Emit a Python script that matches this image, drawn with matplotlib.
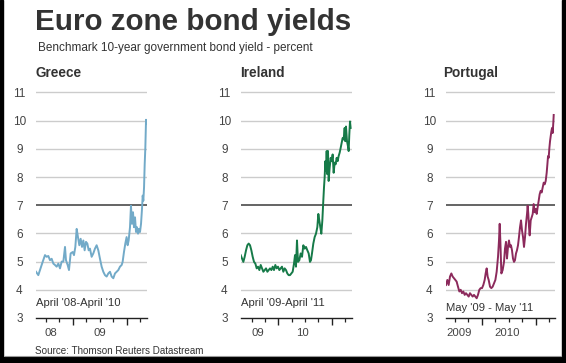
import matplotlib
matplotlib.use("Agg")
import matplotlib.pyplot as plt
import matplotlib.transforms as mtransforms
from matplotlib.patches import Rectangle
from matplotlib.lines import Line2D

plt.rcParams['font.family'] = ['Liberation Sans', 'DejaVu Sans']

# ---------------- data (decimal years, percent) ----------------
greece_t = [2008.318, 2008.361, 2008.392, 2008.442, 2008.485, 2008.516, 2008.547, 2008.578,
            2008.609, 2008.640, 2008.671, 2008.702, 2008.733, 2008.764, 2008.795, 2008.826,
            2008.857, 2008.875, 2008.906, 2008.931, 2008.962, 2009.000, 2009.024, 2009.049,
            2009.074, 2009.098, 2009.123, 2009.148, 2009.173, 2009.198, 2009.222, 2009.247,
            2009.272, 2009.297, 2009.321, 2009.352, 2009.383, 2009.414, 2009.445, 2009.476,
            2009.507, 2009.538, 2009.569, 2009.600, 2009.631, 2009.662, 2009.693, 2009.724,
            2009.755, 2009.786, 2009.817, 2009.848, 2009.879, 2009.910, 2009.928, 2009.953,
            2009.978, 2010.002, 2010.021, 2010.040, 2010.065, 2010.083, 2010.102, 2010.121,
            2010.139, 2010.158, 2010.177, 2010.195, 2010.214, 2010.232, 2010.251, 2010.270,
            2010.288, 2010.301, 2010.313, 2010.326, 2010.338, 2010.350, 2010.363, 2010.369]
greece_y = [4.64, 4.52, 4.70, 4.99, 5.23, 5.17, 5.20, 5.05,
            5.10, 4.93, 4.88, 4.82, 4.93, 4.76, 5.00, 5.00,
            5.52, 5.05, 4.88, 4.70, 5.29, 5.34, 5.23, 5.52,
            6.16, 5.87, 5.58, 5.81, 5.52, 5.75, 5.40, 5.70,
            5.64, 5.40, 5.46, 5.17, 5.29, 5.46, 5.58, 5.40,
            5.10, 4.82, 4.64, 4.52, 4.47, 4.58, 4.64, 4.47,
            4.41, 4.58, 4.64, 4.70, 4.82, 4.88, 4.99, 5.34,
            5.64, 5.87, 5.58, 5.75, 6.22, 6.98, 6.34, 6.75,
            6.22, 6.57, 6.05, 6.22, 5.99, 6.16, 6.05, 6.34,
            6.87, 7.34, 7.16, 7.63, 8.45, 9.03, 10.03, 9.90]

ireland_t = [2009.295, 2009.320, 2009.345, 2009.370, 2009.395, 2009.420, 2009.445, 2009.470,
             2009.495, 2009.520, 2009.545, 2009.570, 2009.595, 2009.620, 2009.645, 2009.670,
             2009.695, 2009.720, 2009.745, 2009.770, 2009.795, 2009.820, 2009.845, 2009.870,
             2009.895, 2009.919, 2009.944, 2009.969, 2009.994, 2010.019, 2010.044, 2010.069,
             2010.094, 2010.119, 2010.144, 2010.169, 2010.194, 2010.219, 2010.244, 2010.269,
             2010.294, 2010.313, 2010.331, 2010.350, 2010.369, 2010.394, 2010.419, 2010.444,
             2010.469, 2010.494, 2010.519, 2010.544, 2010.569, 2010.593, 2010.612, 2010.631,
             2010.656, 2010.681, 2010.706, 2010.731, 2010.750, 2010.768, 2010.787, 2010.806,
             2010.825, 2010.843, 2010.856, 2010.868, 2010.881, 2010.893, 2010.906, 2010.918,
             2010.931, 2010.943, 2010.962, 2010.981, 2011.000, 2011.018, 2011.037, 2011.056,
             2011.074, 2011.093, 2011.112, 2011.130, 2011.149, 2011.168, 2011.187, 2011.205,
             2011.224, 2011.243, 2011.255, 2011.268, 2011.287, 2011.305, 2011.318, 2011.330,
             2011.343, 2011.355]
ireland_y = [5.23, 5.11, 4.99, 5.17, 5.40, 5.58, 5.64, 5.58,
             5.40, 5.17, 4.99, 4.93, 4.76, 4.82, 4.70, 4.88,
             4.76, 4.64, 4.70, 4.76, 4.64, 4.70, 4.76, 4.70,
             4.82, 4.70, 4.88, 4.76, 4.82, 4.70, 4.76, 4.82,
             4.64, 4.76, 4.70, 4.58, 4.52, 4.52, 4.58, 4.64,
             4.93, 5.23, 4.82, 5.75, 4.99, 5.05, 5.29, 5.17,
             5.58, 5.46, 5.52, 5.40, 5.29, 4.99, 5.05, 5.29,
             5.64, 5.87, 5.99, 6.22, 6.69, 6.46, 6.22, 5.99,
             6.46, 7.16, 7.63, 7.98, 8.56, 8.21, 8.92, 8.10,
             8.92, 7.86, 8.33, 8.68, 8.56, 8.80, 8.15, 8.51,
             8.45, 8.68, 8.56, 8.74, 8.86, 9.03, 9.21, 9.38,
             9.33, 9.74, 9.27, 9.79, 9.27, 9.09, 8.92, 9.50,
             9.97, 9.74]

portugal_t = [2009.339, 2009.364, 2009.388, 2009.413, 2009.438, 2009.462, 2009.487, 2009.512,
              2009.536, 2009.561, 2009.586, 2009.611, 2009.635, 2009.660, 2009.685, 2009.709,
              2009.734, 2009.759, 2009.783, 2009.808, 2009.833, 2009.857, 2009.882, 2009.907,
              2009.931, 2009.956, 2009.981, 2010.006, 2010.030, 2010.055, 2010.073, 2010.092,
              2010.110, 2010.129, 2010.154, 2010.178, 2010.203, 2010.228, 2010.253, 2010.277,
              2010.302, 2010.320, 2010.333, 2010.345, 2010.364, 2010.388, 2010.413, 2010.431,
              2010.450, 2010.468, 2010.487, 2010.505, 2010.524, 2010.542, 2010.561, 2010.579,
              2010.598, 2010.616, 2010.635, 2010.653, 2010.672, 2010.690, 2010.709, 2010.728,
              2010.746, 2010.765, 2010.783, 2010.802, 2010.820, 2010.839, 2010.851, 2010.863,
              2010.876, 2010.888, 2010.907, 2010.925, 2010.944, 2010.962, 2010.981, 2010.999,
              2011.018, 2011.036, 2011.055, 2011.073, 2011.092, 2011.110, 2011.129, 2011.148,
              2011.166, 2011.185, 2011.203, 2011.216, 2011.228, 2011.240, 2011.253, 2011.265,
              2011.277, 2011.290, 2011.302, 2011.314, 2011.327, 2011.333]
portugal_y = [4.17, 4.35, 4.17, 4.47, 4.58, 4.47, 4.41, 4.35,
              4.29, 4.11, 3.94, 4.00, 3.88, 3.94, 3.82, 3.88,
              3.82, 3.76, 3.88, 3.82, 3.76, 3.82, 3.76, 3.70,
              3.82, 4.00, 4.06, 4.06, 4.17, 4.35, 4.58, 4.76,
              4.47, 4.35, 4.11, 4.06, 4.11, 4.23, 4.35, 4.64,
              5.17, 5.75, 6.34, 5.75, 4.58, 4.70, 4.99, 5.46,
              5.70, 5.11, 5.52, 5.75, 5.52, 5.58, 5.40, 5.11,
              4.99, 5.05, 5.29, 5.40, 5.58, 5.87, 6.22, 6.46,
              6.11, 5.87, 5.52, 5.87, 6.34, 6.69, 6.98, 6.69,
              6.22, 5.93, 6.46, 6.57, 6.69, 7.04, 6.75, 6.87,
              6.69, 6.93, 7.16, 7.39, 7.51, 7.45, 7.63, 7.80,
              7.74, 7.86, 8.15, 8.45, 8.74, 8.68, 9.03, 9.27,
              9.44, 9.62, 9.74, 9.56, 9.97, 10.20]

countries = ["Greece", "Ireland", "Portugal"]
periods = ["April '08-April '10", "April '09-April '11", "May '09 - May '11"]
year_labels = [["08", "09"], ["09", "10"], ["2009", "2010"]]
year_label_pos = [[2008.60, 2009.50], [2009.62, 2010.46], [2009.58, 2010.47]]
xlims = [(2008.318, 2010.381), (2009.301, 2011.375), (2009.339, 2011.357)]
major_ticks = [[2009, 2010], [2010, 2011], [2010, 2011]]
minor_ticks = [[2008.5, 2008.75, 2009.25, 2009.5, 2009.75, 2010.25],
               [2009.5, 2009.75, 2010.25, 2010.5, 2010.75, 2011.25],
               [2009.5, 2009.75, 2010.25, 2010.5, 2010.75, 2011.25]]
y_ticks = [3, 4, 5, 6, 7, 8, 9, 10, 11]
series_t = [greece_t, ireland_t, portugal_t]
series_y = [greece_y, ireland_y, portugal_y]
colors = ["#72aac8", "#167a48", "#8c2a5c"]

# ---------------- figure ----------------
W, H = 566, 363
fig = plt.figure(figsize=(W / 100, H / 100), dpi=100)
fig.patch.set_facecolor("white")

def fx(px):
    return px / W

def fy(py):
    return 1 - py / H

txt = "#333333"
fig.text(fx(35), fy(30), "Euro zone bond yields", fontsize=21.3, fontweight="bold",
         color=txt, va="baseline", ha="left")
fig.text(fx(38), fy(51), "Benchmark 10-year government bond yield - percent", fontsize=8.5,
         color=txt, va="baseline", ha="left")
fig.text(fx(35), fy(354), "Source: Thomson Reuters Datastream", fontsize=7.1,
         color=txt, va="baseline", ha="left")

ax_left = [36, 241, 446]
ax_width = [111, 110.7, 109]
title_x = [35, 240, 443]
period_y = [0.068, 0.066, 0.044]
ax_bottom_px, ax_top_px = 318, 91

for i in range(3):
    ax = fig.add_axes([fx(ax_left[i]), fy(ax_bottom_px), ax_width[i] / W,
                       (ax_bottom_px - ax_top_px) / H])
    ax.set_xlim(*xlims[i])
    ax.set_ylim(3, 11.05)
    for v in y_ticks[1:]:
        if v == 7:
            ax.axhline(v, color="#3a3a3a", lw=1.1, zorder=1)
        else:
            ax.axhline(v, color="#cccccc", lw=1.0, zorder=1)
    ax.plot(series_t[i], series_y[i], color=colors[i], lw=1.4, zorder=3)

    for s in ["top", "right", "left"]:
        ax.spines[s].set_visible(False)
    ax.spines["bottom"].set_color("#222222")
    ax.spines["bottom"].set_linewidth(1.0)
    ax.spines["bottom"].set_position(("data", 3))

    ax.set_xticks(major_ticks[i])
    ax.set_xticks(minor_ticks[i], minor=True)
    ax.set_xticklabels([])
    ax.tick_params(axis="x", which="major", length=5, width=1.0, color="#222222", direction="out")
    ax.tick_params(axis="x", which="minor", length=3, width=0.9, color="#222222", direction="out")

    ax.set_yticks(y_ticks)
    ax.set_yticklabels([str(v) for v in y_ticks], fontsize=8.5, color="#444444")
    for lab in ax.get_yticklabels():
        lab.set_horizontalalignment("center")
    ax.tick_params(axis="y", length=0, pad=12)

    trans = mtransforms.blended_transform_factory(ax.transData, ax.transAxes)
    for lbl, pos in zip(year_labels[i], year_label_pos[i]):
        ax.text(pos, -0.064, lbl, transform=trans, fontsize=8.2, color="#444444",
                ha="center", va="center")
    ax.text(0.0, period_y[i], periods[i], transform=ax.transAxes, fontsize=8.1,
            color="#333333", ha="left", va="center")
    fig.text(fx(title_x[i]), fy(77), countries[i], fontsize=9.8, fontweight="bold",
             color=txt, ha="left", va="baseline")
    ax.patch.set_alpha(0)

# frame
fig.patches.append(Rectangle((0, 0), fx(2.5), 1, transform=fig.transFigure, color="black"))
fig.patches.append(Rectangle((fx(562), 0), fx(4), 1, transform=fig.transFigure, color="black"))
fig.patches.append(Rectangle((0, 0), 1, fy(357), transform=fig.transFigure, color="black"))
fig.lines.append(Line2D([fx(5), fx(561)], [fy(355.5), fy(355.5)], transform=fig.transFigure,
                        color="#999999", lw=0.8))

fig.savefig("out.png", dpi=100)
